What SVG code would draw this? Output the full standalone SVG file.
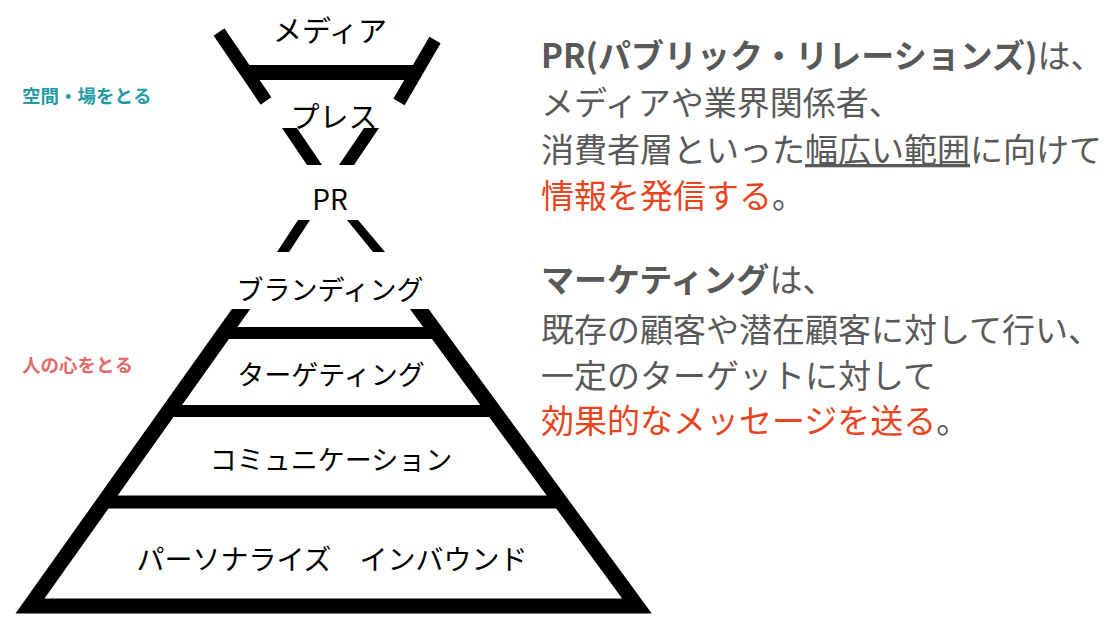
<svg xmlns="http://www.w3.org/2000/svg" width="1106" height="620" viewBox="0 0 1106 620">
<style>
.lvl{font-family:"Noto Sans CJK JP","Noto Sans",sans-serif;font-size:27px;fill:#000;text-anchor:middle}
.side{font-family:"Noto Sans CJK JP","Noto Sans",sans-serif;font-size:18.5px;font-weight:bold}
.body{font-family:"Noto Sans CJK JP","Noto Sans",sans-serif;font-size:33px;fill:#595959}
.b{font-weight:bold}
.red{fill:#e8441e}
.bar{stroke:#000;fill:none}
</style>
<defs>
<clipPath id="pyrClip"><rect x="0" y="309" width="700" height="311"/></clipPath>
</defs>
<rect width="1106" height="620" fill="#fff"/>
<g id="funnel">
<line class="bar" x1="219" y1="32" x2="266" y2="101" stroke-width="13"/>
<line class="bar" x1="435" y1="40" x2="399" y2="102" stroke-width="13"/>
<rect x="244" y="65" width="172" height="15" fill="#000"/>
<polygon points="282,128 297,128 322,165 307,165" fill="#000"/>
<polygon points="364,128 379,128 354,165 339,165" fill="#000"/>
<polygon points="298,220 310,220 289,252 277,252" fill="#000"/>
<polygon points="347,220 358,220 385,252 373,252" fill="#000"/>
</g>
<g id="pyramid">
<path class="bar" d="M251,295 L30,606 L637,606 L409,295" stroke-width="15" stroke-linejoin="miter" clip-path="url(#pyrClip)"/>
<line class="bar" x1="224" y1="333" x2="436" y2="333" stroke-width="12"/>
<line class="bar" x1="168" y1="411" x2="494" y2="411" stroke-width="12"/>
<line class="bar" x1="104" y1="502" x2="560" y2="502" stroke-width="13"/>
</g>
<g id="node-media"><text class="lvl" x="330" y="42" style="font-size:29px">メディア</text></g>
<g id="node-press"><text class="lvl" x="334" y="128" style="font-size:29px">プレス</text></g>
<g id="node-pr"><text class="lvl" x="330" y="210" style="font-size:28px">PR</text></g>
<g id="node-branding"><text class="lvl" x="330" y="300">ブランディング</text></g>
<g id="node-targeting"><text class="lvl" x="331" y="385">ターゲティング</text></g>
<g id="node-communication"><text class="lvl" x="331" y="470">コミュニケーション</text></g>
<g id="node-personalize"><text class="lvl" x="332" y="570" style="font-size:28px">パーソナライズ　インバウンド</text></g>
<g id="label-space"><text class="side" x="22" y="103" fill="#1f9ba4">空間・場をとる</text></g>
<g id="label-heart"><text class="side" x="22" y="372" fill="#e06a6a">人の心をとる</text></g>
<g id="desc-pr">
<text class="body" x="541" y="68"><tspan class="b">PR(パブリック・リレーションズ)</tspan>は、</text>
<text class="body" x="541" y="115">メディアや業界関係者、</text>
<text class="body" x="541" y="162">消費者層といった<tspan text-decoration="underline">幅広い範囲</tspan>に向けて</text>
<text class="body" x="541" y="208"><tspan class="red">情報を発信する</tspan>。</text>
</g>
<g id="desc-marketing">
<text class="body" x="541" y="292"><tspan class="b">マーケティング</tspan>は、</text>
<text class="body" x="541" y="342">既存の顧客や潜在顧客に対して行い、</text>
<text class="body" x="541" y="388">一定のターゲットに対して</text>
<text class="body" x="541" y="433"><tspan class="red">効果的なメッセージを送る</tspan>。</text>
</g>
</svg>
